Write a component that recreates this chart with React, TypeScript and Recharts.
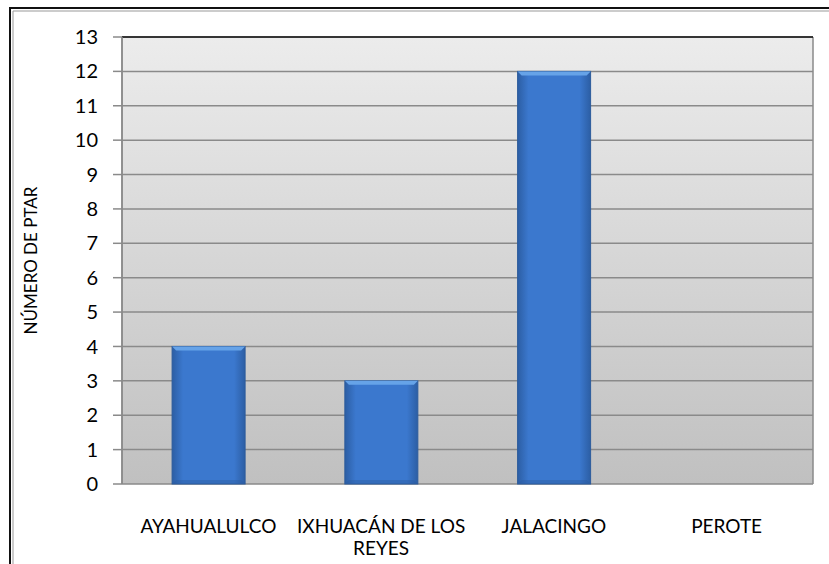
import React from 'react'
import { Bar, BarChart, CartesianGrid, XAxis, YAxis, ReferenceLine, Text } from 'recharts'

const municipios = ['AYAHUALULCO', 'IXHUACÁN DE LOS REYES', 'JALACINGO', 'PEROTE']
const numeroPtar = [4, 3, 12, 0]
const yTicks = [0, 1, 2, 3, 4, 5, 6, 7, 8, 9, 10, 11, 12, 13]
const bordes = [0, 1, 2, 3, 4]

const data = municipios.map((name, i) => ({ name, ptar: numeroPtar[i] }))

const FONT = 'Lato, "Open Sans", sans-serif'

function CategoryTick(props: any) {
    const { x, y, payload } = props
    return (
        <Text x={x} y={y + 28} width={175} textAnchor="middle" verticalAnchor="start"
            fontFamily={FONT} fontSize={19} fill="#000" lineHeight={22}>
            {payload.value}
        </Text>
    )
}

function BeveledBar(props: any) {
    const { x, y, width, height } = props
    if (!height || height <= 0) return null
    const b = 4
    return (
        <g>
            <rect x={x} y={y} width={width} height={height} fill="url(#barGrad)" stroke="#2d5c9c" strokeWidth={1} />
            <polygon points={`${x},${y} ${x + width},${y} ${x + width - b},${y + b} ${x + b},${y + b}`} fill="#66a3e8" />
            <polygon points={`${x},${y + height} ${x + width},${y + height} ${x + width - b},${y + height - b} ${x + b},${y + height - b}`} fill="#2a5a9e" opacity={0.4} />
        </g>
    )
}

export default function App() {
    return (
        <div style={{ position: 'fixed', left: 0, top: 0, width: 829, height: 564, background: '#fff', overflow: 'hidden' }}>
            <svg width={829} height={564} style={{ position: 'absolute', left: 0, top: 0 }}>
                <path d="M10,564 L10,8 L829,8" fill="none" stroke="#111" strokeWidth={2} />
                <path d="M13,564 L13,11 L829,11" fill="none" stroke="#999" strokeWidth={1} />
            </svg>
            <div style={{ position: 'absolute', left: 0, top: 0 }}>
                <BarChart width={829} height={564} data={data} barCategoryGap="29%"
                    margin={{ top: 37, right: 16, left: 0, bottom: 0 }}>
                    <defs>
                        <linearGradient id="plotGrad" x1="0" y1="0" x2="0" y2="1">
                            <stop offset="0%" stopColor="#ececec" />
                            <stop offset="100%" stopColor="#c0c0c0" />
                        </linearGradient>
                        <linearGradient id="barGrad" x1="0" y1="0" x2="1" y2="0">
                            <stop offset="0%" stopColor="#2c5ea4" />
                            <stop offset="15%" stopColor="#3b78ce" />
                            <stop offset="85%" stopColor="#3b78ce" />
                            <stop offset="100%" stopColor="#2c5ea4" />
                        </linearGradient>
                    </defs>
                    <CartesianGrid xAxisId="edges" fill="url(#plotGrad)" fillOpacity={1}
                        stroke="#8a8a8a" strokeWidth={1.5} />
                    <XAxis xAxisId="edges" type="number" domain={[0, 4]} ticks={bordes}
                        height={0} tick={false} tickSize={8} tickLine={{ stroke: '#8a8a8a', strokeWidth: 1.5 }}
                        axisLine={{ stroke: '#8a8a8a', strokeWidth: 1.5 }} />
                    <XAxis dataKey="name" height={80} interval={0} tickLine={false} axisLine={false}
                        tick={<CategoryTick />} />
                    <YAxis width={122} domain={[0, 13]} ticks={yTicks} interval={0} tickSize={9} tickMargin={15}
                        tick={{ fontFamily: FONT, fontSize: 20, fill: '#000' }}
                        tickLine={{ stroke: '#8a8a8a', strokeWidth: 1.5 }}
                        axisLine={{ stroke: '#8a8a8a', strokeWidth: 1.5 }}
                        label={{ value: 'NÚMERO DE PTAR', angle: -90, position: 'insideLeft', dx: 26,
                            style: { textAnchor: 'middle', fontFamily: FONT, fontSize: 17, fill: '#000' } }} />
                    <ReferenceLine y={13} stroke="#111" strokeWidth={1.5} />
                    <ReferenceLine xAxisId="edges" x={4} stroke="#111" strokeWidth={1.5} />
                    <Bar dataKey="ptar" shape={<BeveledBar />} isAnimationActive={false} />
                </BarChart>
            </div>
        </div>
    )
}
